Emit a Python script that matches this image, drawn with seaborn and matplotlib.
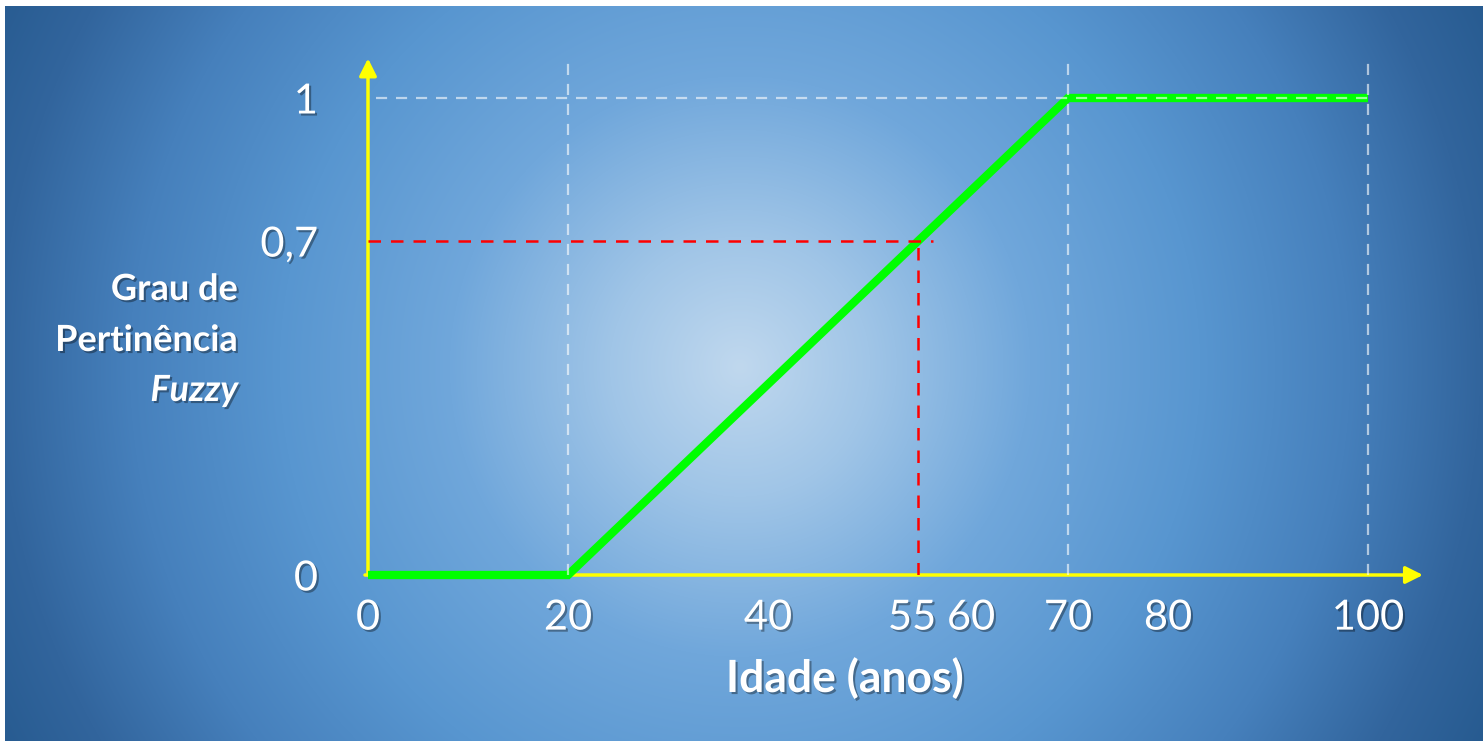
import numpy as np
import matplotlib
matplotlib.use("Agg")
import matplotlib.pyplot as plt
import matplotlib.patheffects as pe
import matplotlib.transforms as mtransforms
import seaborn as sns

# membership function "idoso" (age -> fuzzy degree)
ages = [0, 20, 70, 100]
membership = [0, 0, 1, 1]
guide_ages = [20, 70, 100]          # white dashed verticals
example_age = 55                    # red dashed example
example_degree = 0.7
x_ticks = [0, 20, 40, 55, 60, 70, 80, 100]
x_tick_labels = ["0", "20", "40", "55", "60", "70", "80", "100"]
y_ticks = [0, 0.7, 1]
y_tick_labels = ["0", "0,7", "1"]

W, H = 1483, 741
sns.set_style("white")
plt.rcParams["font.family"] = ["Lato", "DejaVu Sans"]

fig = plt.figure(figsize=(W / 100, H / 100), dpi=100, facecolor="white")

# radial blue background
bg = fig.add_axes([5 / W, 0, 1 - 5 / W, 1 - 6 / H])
bw, bh = W - 5, H - 6
yy, xx = np.mgrid[0:bh, 0:bw]
r = np.hypot(xx - bw * 0.497, yy - bh * 0.49)
stops = [0, 130, 290, 460, 610, 740, 840]
cols = np.array([[192, 216, 238], [160, 197, 231], [112, 167, 219], [88, 150, 208],
                 [70, 128, 188], [50, 101, 157], [38, 90, 143]]) / 255
img = np.dstack([np.interp(r, stops, cols[:, k]) for k in range(3)])
bg.imshow(img, aspect="auto", interpolation="bilinear")
bg.axis("off")

ax = fig.add_axes([368 / W, 166 / H, 1000 / W, 477 / H])
ax.patch.set_alpha(0)
ax.set_xlim(0, 100)
ax.set_ylim(0, 1)
for s in ax.spines.values():
    s.set_visible(False)

shadow = [pe.SimplePatchShadow(offset=(1.5, -1.5), shadow_rgbFace="black", alpha=0.35), pe.Normal()]

# yellow axes with arrow heads
arrow = dict(arrowstyle="-|>", color="#ffff00", lw=2.5, mutation_scale=26, shrinkA=0, shrinkB=0)
ax.annotate("", xy=(105.5, 0), xytext=(-0.3, 0), arrowprops=arrow, annotation_clip=False)
ax.annotate("", xy=(0, 1.083), xytext=(0, 0), arrowprops=arrow, annotation_clip=False)

# membership curve
sns.lineplot(x=ages, y=membership, ax=ax, color="#00ff00", lw=6, clip_on=False,
             solid_capstyle="butt", solid_joinstyle="miter", zorder=3)

# guide lines
dash = (0, (5, 4))
for g in guide_ages:
    ax.plot([g, g], [0, 1.075], color="white", alpha=0.6, lw=1.6, ls=dash, clip_on=False, zorder=4)
ax.plot([0.8, 100], [1, 1], color="white", alpha=0.6, lw=1.6, ls=dash, clip_on=False, zorder=4)
ax.plot([0, example_age + 1.5], [example_degree, example_degree], color="#ff0000", lw=1.8, ls=dash, zorder=4)
ax.plot([example_age, example_age], [0, example_degree], color="#ff0000", lw=1.8, ls=dash, zorder=4)

# ticks
ax.set_xticks(x_ticks, x_tick_labels)
ax.set_yticks(y_ticks, y_tick_labels)
ax.tick_params(axis="x", length=0, pad=17, labelsize=30, labelcolor="white")
ax.tick_params(axis="y", length=0, pad=36, labelsize=30, labelcolor="white")
for lbl in ax.get_xticklabels() + ax.get_yticklabels():
    lbl.set_path_effects(shadow)
# nudge the crowded 55 / 60 labels apart
nudge = {"55": -6, "60": 3}
for lbl in ax.get_xticklabels():
    if lbl.get_text() in nudge:
        lbl.set_transform(lbl.get_transform() +
                          mtransforms.ScaledTranslation(nudge[lbl.get_text()] / 100, 0, fig.dpi_scale_trans))

# axis titles
txt = dict(color="white", fontweight="bold", path_effects=shadow)
fig.text(845 / W, 1 - 692 / H, "Idade (anos)", ha="center", va="baseline", fontsize=32, **txt)
fig.text(238 / W, 1 - 300 / H, "Grau de", ha="right", va="baseline", fontsize=26, **txt)
fig.text(238 / W, 1 - 351 / H, "Pertinência", ha="right", va="baseline", fontsize=26, **txt)
fig.text(238 / W, 1 - 401 / H, "Fuzzy", ha="right", va="baseline", fontsize=26, style="italic", **txt)

fig.savefig("out.png", dpi=100, facecolor="white")
